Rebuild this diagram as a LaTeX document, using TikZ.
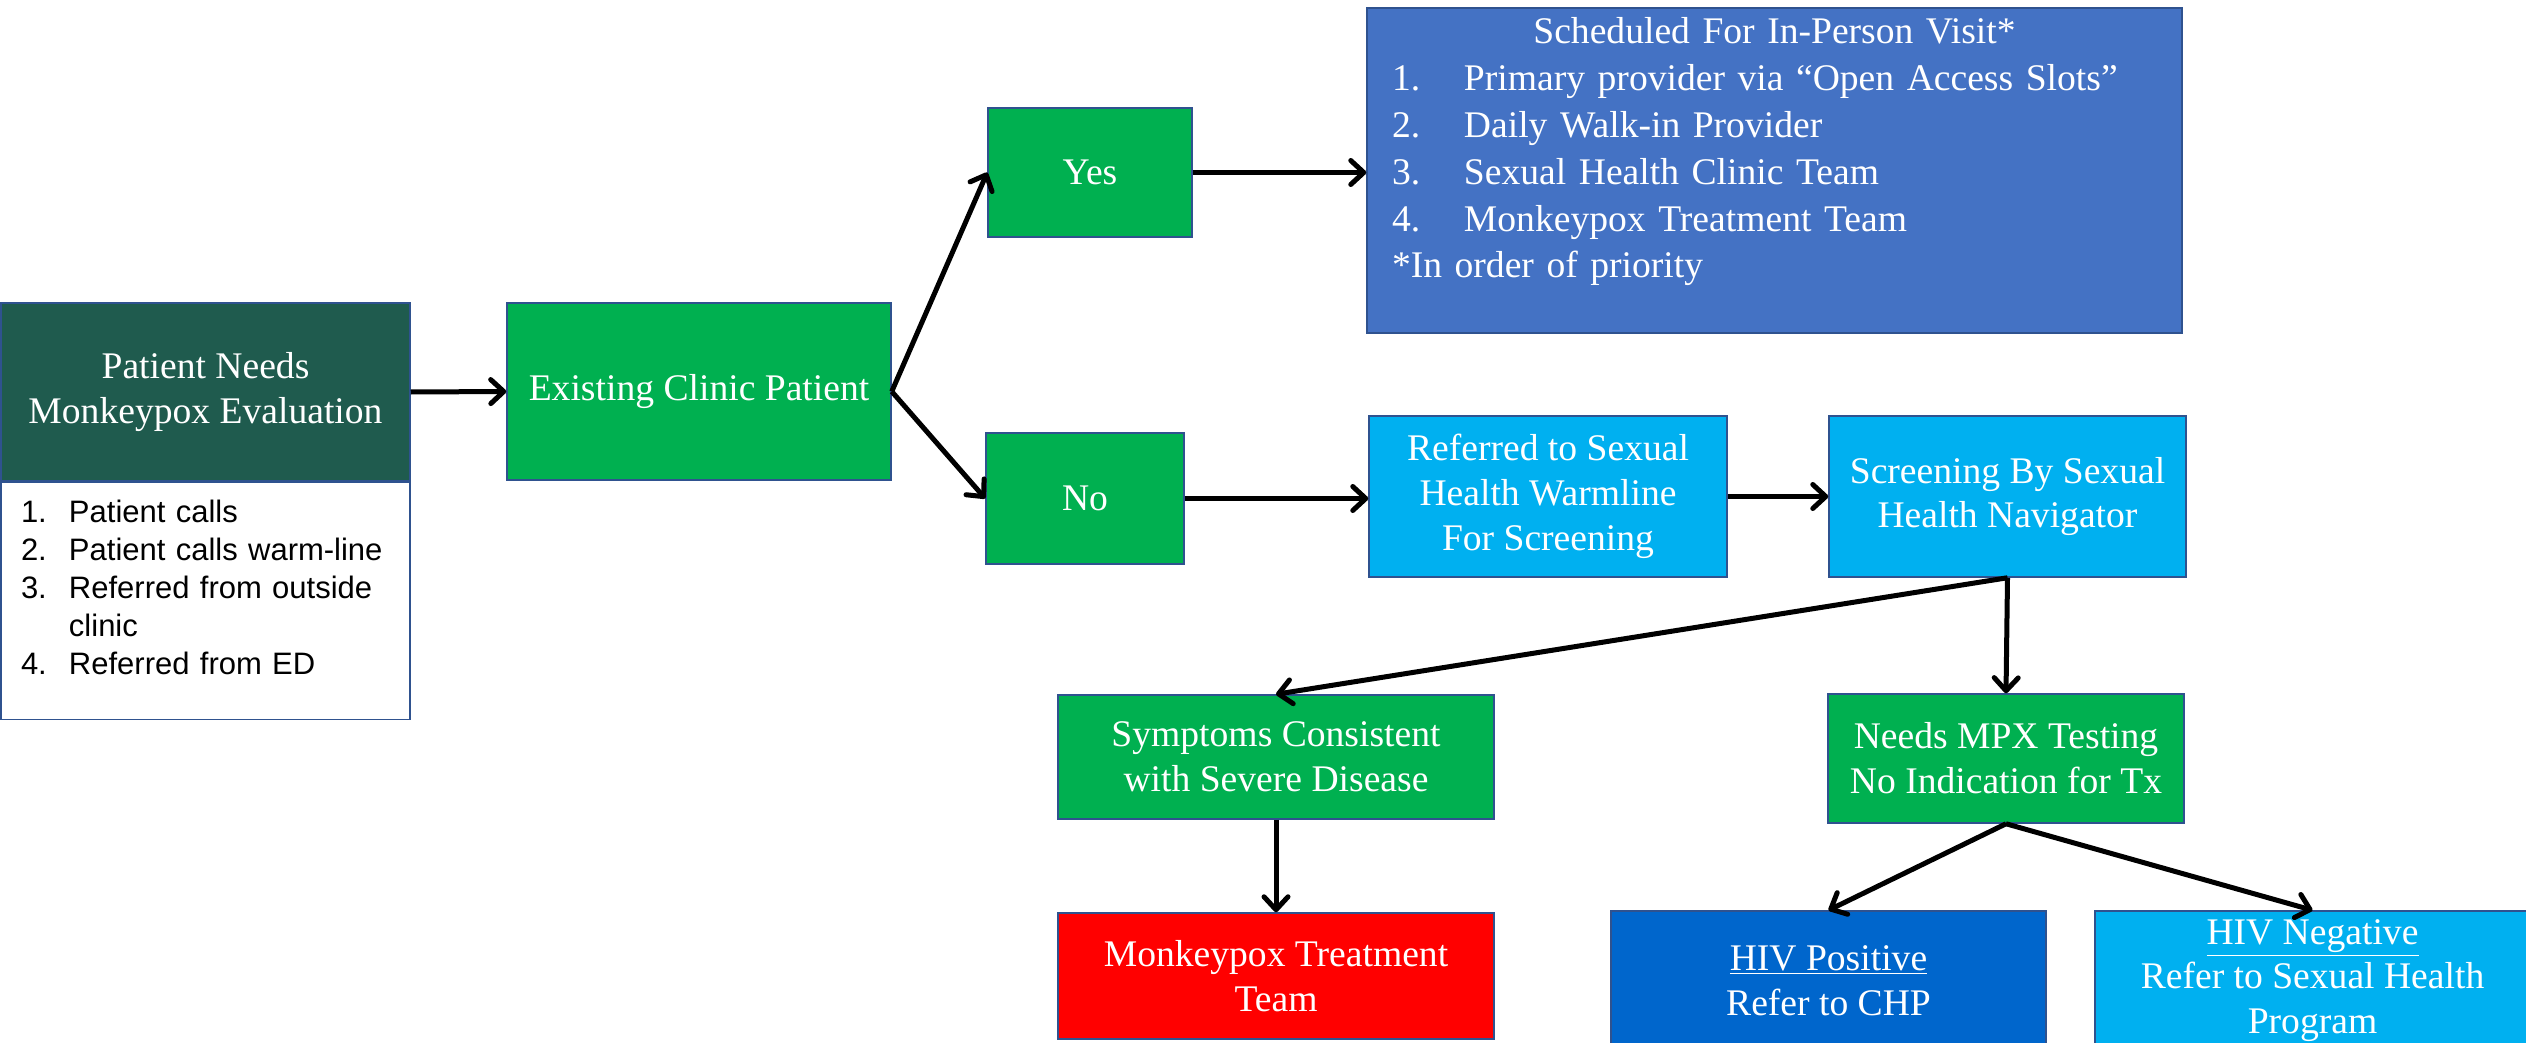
\documentclass[tikz,border=0pt]{standalone}
\usepackage{fontspec}
\setmainfont{Liberation Serif}
\newfontfamily\arialfont{Liberation Sans}
\usepackage{tikz}
\usetikzlibrary{positioning, arrows.meta}
\definecolor{darkteal}{RGB}{31,91,78}
\definecolor{okgreen}{RGB}{0,176,80}
\definecolor{midblue}{RGB}{68,114,196}
\definecolor{skyblue}{RGB}{0,176,240}
\definecolor{deepblue}{RGB}{0,102,204}
\definecolor{edgeblue}{RGB}{47,82,143}
\newcommand{\boxfont}{\fontsize{18.8}{22.4}\selectfont}
\newcommand{\listfont}{\arialfont\fontsize{15.5}{19}\selectfont}

\begin{document}
\begin{tikzpicture}[x=0.5pt, y=-0.5pt,
    box/.style={draw=edgeblue, line width=0.75pt, text=white, align=center, inner sep=0pt, font=\boxfont},
    arr/.style={line width=2.5pt, -{Straight Barb[length=6.5pt, width=12pt, round]}}]
    \path[use as bounding box, clip] (0,0) rectangle (2526,1043);
    % Entry point
    \node[box, fill=darkteal, minimum width=204.5pt, minimum height=89pt] (patient) at (205.5,392) {Patient Needs\\Monkeypox Evaluation};
    \node[box, fill=white, text=black, align=left, font=\listfont, below=0pt of patient,
          inner xsep=10pt, text width=184.5pt, text height=20pt, text depth=98.5pt] (sources) {%
        \makebox[24pt][l]{1.}Patient calls\\
        \makebox[24pt][l]{2.}Patient calls warm-line\\
        \makebox[24pt][l]{3.}Referred from outside\\
        \hspace*{24pt}clinic\\
        \makebox[24pt][l]{4.}Referred from ED};
    % Clinic patient?
    \node[box, fill=okgreen, minimum width=192pt, minimum height=88.5pt] (existing) at (699,391.5) {Existing Clinic Patient};
    \node[box, fill=okgreen, minimum width=102pt, minimum height=64.5pt] (yes) at (1090,172.5) {Yes};
    \node[box, fill=okgreen, minimum width=99pt, minimum height=65.5pt] (no) at (1085,498.5) {No};
    % Yes branch
    \node[box, fill=midblue, align=left, font=\fontsize{18.8}{23.4}\selectfont, inner xsep=12.5pt, text width=382.5pt,
          text height=18pt, text depth=144.5pt] (sched) at (1774.5,170.5) {%
        \makebox[382.5pt]{Scheduled For In-Person Visit*}\\
        \makebox[36pt][l]{1.}Primary provider via “Open Access Slots”\\
        \makebox[36pt][l]{2.}Daily Walk-in Provider\\
        \makebox[36pt][l]{3.}Sexual Health Clinic Team\\
        \makebox[36pt][l]{4.}Monkeypox Treatment Team\\
        {*}In order of priority};
    % No branch
    \node[box, fill=skyblue, minimum width=179pt, minimum height=80.5pt] (referred) at (1548,496.5) {Referred to Sexual\\Health Warmline\\For Screening};
    \node[box, fill=skyblue, minimum width=178.5pt, minimum height=80.5pt] (screening) at (2007.5,496.5) {Screening By Sexual\\Health Navigator};
    \node[box, fill=okgreen, minimum width=218pt, minimum height=62pt] (symptoms) at (1276,757) {Symptoms Consistent\\with Severe Disease};
    \node[box, fill=red, minimum width=218pt, minimum height=63pt] (mpxtr) at (1276,976) {Monkeypox Treatment\\Team};
    \node[box, fill=okgreen, minimum width=178pt, minimum height=64.5pt] (mpxtest) at (2006,758.5) {Needs MPX Testing\\No Indication for Tx};
    \node[box, fill=deepblue, minimum width=217.5pt, minimum height=69.5pt] (hivpos) at (1828.5,980.5) {\underline{HIV Positive}\\Refer to CHP};
    \node[box, fill=skyblue, minimum width=217.5pt, minimum height=69.5pt] (hivneg) at (2312.5,980.5) {\underline{HIV Negative}\\Refer to Sexual Health\\Program};
    % Connectors
    \draw[arr] (patient.east) -- (existing.west);
    \draw[arr] (existing.east) -- (yes.west);
    \draw[arr] (existing.east) -- (no.west);
    \draw[arr] (yes.east) -- (yes.east -| sched.west);
    \draw[arr] (no.east) -- (no.east -| referred.west);
    \draw[arr] (referred.east) -- (screening.west);
    \draw[arr] (screening.south) -- (symptoms.north);
    \draw[arr] (screening.south) -- (mpxtest.north);
    \draw[arr] (symptoms.south) -- (mpxtr.north);
    \draw[arr] (mpxtest.south) -- (hivpos.north);
    \draw[arr] (mpxtest.south) -- (hivneg.north);
\end{tikzpicture}
\end{document}
